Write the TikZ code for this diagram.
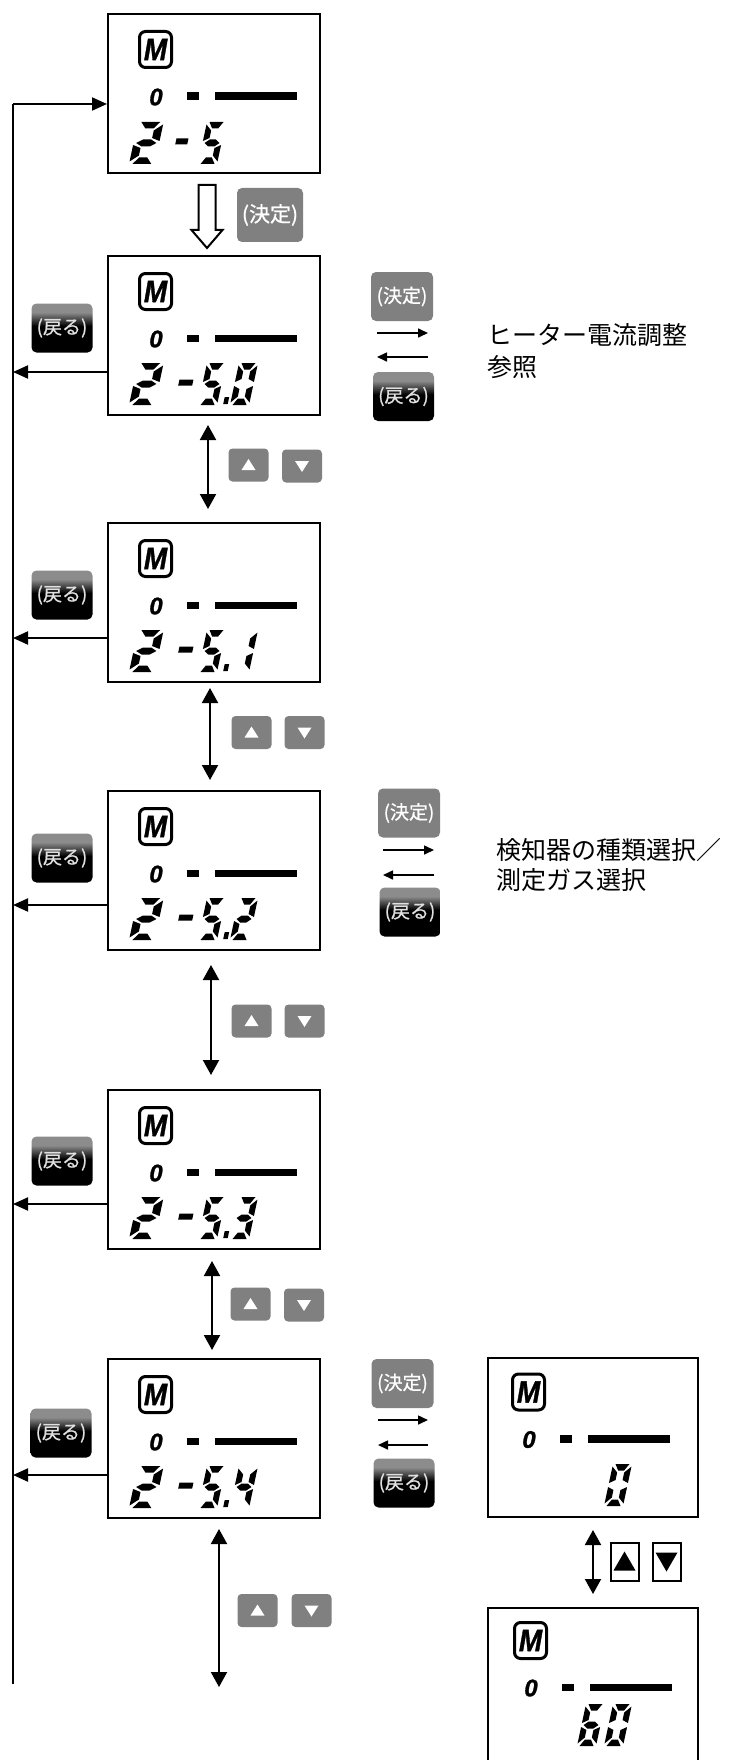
\documentclass[tikz,border=0pt]{standalone}
\usepackage{fontspec}
\usepackage{graphicx}
\setmainfont{Liberation Sans}
\newfontfamily\jpfont{Noto Sans CJK JP}
\newfontfamily\jpbtn{Noto Sans CJK JP}[FakeBold=0.7]
\newfontfamily\lcdfont{Liberation Sans}[BoldItalicFeatures={FakeBold=1.2}]
\usetikzlibrary{arrows.meta}
\definecolor{btngray}{RGB}{128,128,128}
\definecolor{modtop}{RGB}{140,140,140}
\pgfdeclareverticalshading{modoru}{100bp}{color(0bp)=(black); color(52bp)=(black); color(66bp)=(modtop); color(100bp)=(modtop)}
% seven-segment pieces (local px, y down, cell 19x42)
\newcommand\sgA{\fill (2.5,0) -- (16.5,0) -- (12.5,6.5) -- (6.5,6.5) -- cycle;}
\newcommand\sgB{\fill (19,2.5) -- (19,19) -- (13,16) -- (13,8.5) -- cycle;}
\newcommand\sgC{\fill (19,23) -- (19,39.5) -- (13,33.5) -- (13,26) -- cycle;}
\newcommand\sgD{\fill (2.5,42) -- (16.5,42) -- (12.5,35.5) -- (6.5,35.5) -- cycle;}
\newcommand\sgE{\fill (0,23) -- (6,26) -- (6,33.5) -- (0,39.5) -- cycle;}
\newcommand\sgF{\fill (0,2.5) -- (6,8.5) -- (6,16) -- (0,19) -- cycle;}
\newcommand\sgG{\fill (2,21) -- (6.5,17.5) -- (12.5,17.5) -- (17,21) -- (12.5,24.5) -- (6.5,24.5) -- cycle;}
\newcommand\lcddig[4][1]{\begin{scope}[shift={(#2+9,#3)},xslant=0.214,xscale=#1]\foreach \s in {#4}{\csname sg\s\endcsname}\end{scope}}
\newcommand\lcdminus[3]{\begin{scope}[shift={(#1+9,#2)},xslant=0.214]\fill (0,16.5) rectangle (#3,22.5);\end{scope}}
\newcommand\lcddot[2]{\begin{scope}[shift={(#1+9,#2)},xslant=0.214]\fill (25,34) rectangle (29.5,41);\end{scope}}
\newcommand\lcdtop[3]{%
  \node[micon] (#1M) at (#2+48.5,#3+36.5) {\scalebox{0.9}[1]{M}};
  \node[zlab] (#1Z) at (#2+49,#3+84) {0};
  \fill (#2+80,#3+79.5) rectangle (#2+92,#3+87);
  \fill (#2+108,#3+79.5) rectangle (#2+190,#3+87);}
\newcommand\lcdrow[3]{%
  \lcddig[1.35]{#1+22}{#2+108}{A,B,G,E,D}
  \lcdminus{#1+67}{#2+108}{14}
  \lcddig{#1+91}{#2+108}{A,F,G,C,D}
  \lcddot{#1+91}{#2+108}
  \lcddig{#1+123}{#2+108}{#3}}
\newcommand\whiteup[1]{\fill[white] ([shift={(-7,5)}]#1.center) -- ([shift={(7,5)}]#1.center) -- ([shift={(0,-6)}]#1.center) -- cycle;}
\newcommand\whitedn[1]{\fill[white] ([shift={(-7,-5)}]#1.center) -- ([shift={(7,-5)}]#1.center) -- ([shift={(0,6)}]#1.center) -- cycle;}
\tikzset{
  lcd/.style={draw, line width=1pt, anchor=north west, inner sep=0, minimum width=106pt, minimum height=79.5pt},
  micon/.style={draw, line width=1.5pt, rounded corners=3pt, minimum width=16pt, minimum height=18pt, inner sep=0, font=\lcdfont\fontsize{15.5}{15.5}\selectfont\bfseries\itshape},
  zlab/.style={inner sep=0, font=\lcdfont\fontsize{12}{12}\selectfont\bfseries\itshape},
  kettei/.style={fill=btngray, rounded corners=2.5pt, minimum width=31pt, minimum height=24.5pt, inner sep=0, text=white, font=\jpbtn\fontsize{9.5}{9.5}\selectfont},
  modbtn/.style={shade, shading=modoru, rounded corners=2.5pt, minimum width=30.5pt, minimum height=24.5pt, inner sep=0, text=white!88!black, font=\jpbtn\fontsize{9.5}{9.5}\selectfont},
  updn/.style={fill=btngray, rounded corners=2pt, minimum width=20pt, minimum height=16.5pt, inner sep=0},
  obox/.style={draw, line width=1pt, minimum width=14pt, minimum height=19pt, inner sep=0},
  dbl/.style={line width=1pt, {Triangle[length=7.5pt,width=8pt]}-{Triangle[length=7.5pt,width=8pt]}},
  back/.style={line width=1pt, -{Triangle[length=7.5pt,width=6.5pt]}},
  smallarr/.style={line width=0.8pt, -{Triangle[length=5pt,width=4.5pt]}},
  desc/.style={anchor=west, inner sep=0, font=\jpfont\fontsize{12.5}{12.5}\selectfont},
}
\begin{document}
\begin{tikzpicture}[x=0.5pt,y=-0.5pt]
\useasboundingbox (0,0) rectangle (731,1760);
\clip (0,0) rectangle (731,1760);
\fill[white] (0,0) rectangle (731,1760);
% LCD boxes
\node[lcd] (b1) at (107,13) {};
\node[lcd] (b2) at (107,255) {};
\node[lcd] (b3) at (107,522) {};
\node[lcd] (b4) at (107,790) {};
\node[lcd] (b5) at (107,1089) {};
\node[lcd] (b6) at (107,1358) {};
\node[lcd, minimum width=105pt] (b7) at (487,1357) {};
\node[lcd, minimum width=105pt, minimum height=100pt] (b8) at (487,1607) {};
% LCD contents
\lcdtop{b1}{107}{13}
\lcdtop{b2}{107}{255}
\lcdtop{b3}{107}{522}
\lcdtop{b4}{107}{790}
\lcdtop{b5}{107}{1089}
\lcdtop{b6}{107}{1358}
\lcdtop{b7}{480}{1355.5}
\lcdtop{b8}{482}{1604}
\lcddig[1.35]{129}{122}{A,B,G,E,D}
\lcdminus{171}{122}{12}
\lcddig{198}{122}{A,F,G,C,D}
\lcdrow{107}{255}{A,B,C,D,E,F}
\lcdrow{107}{522}{B,C}
\lcdrow{107}{790}{A,B,G,E,D}
\lcdrow{107}{1089}{A,B,G,C,D}
\lcdrow{107}{1358}{F,G,B,C}
\lcddig{604}{1464}{A,B,C,D,E,F}
\lcddig{577}{1704}{A,F,G,E,D,C}
\lcddig{604}{1704}{A,B,C,D,E,F}
% left return line
\coordinate (top) at (13,104);
\coordinate (bot) at (13,1684);
\draw[line width=1pt] (bot) -- (top);
\draw[back] (top) -- (top -| b1.west);
\coordinate (r2) at (13,372);
\coordinate (r3) at (13,638);
\coordinate (r4) at (13,905);
\coordinate (r5) at (13,1204);
\coordinate (r6) at (13,1475);
\draw[back] (r2 -| b2.west) -- (r2);
\draw[back] (r3 -| b3.west) -- (r3);
\draw[back] (r4 -| b4.west) -- (r4);
\draw[back] (r5 -| b5.west) -- (r5);
\draw[back] (r6 -| b6.west) -- (r6);
\node[modbtn] (m2) at (62,328) {(戻る)};
\node[modbtn] (m3) at (62,595) {(戻る)};
\node[modbtn] (m4) at (62,858) {(戻る)};
\node[modbtn] (m5) at (62,1161) {(戻る)};
\node[modbtn] (m6) at (61,1433) {(戻る)};
% first transition
\draw[line width=1pt, fill=white] (198.5,185) -- (215.5,185) -- (215.5,230) -- (222.5,230) -- (207,248) -- (191.5,230) -- (198.5,230) -- cycle;
\node[kettei, minimum width=33pt, minimum height=27pt, font=\jpbtn\fontsize{10.5}{10.5}\selectfont] (k1) at (270,215) {(決定)};
% right groups
\node[kettei] (k2) at (402,296.5) {(決定)};
\coordinate (a2s) at (377,333); \coordinate (a2e) at (428,333);
\coordinate (c2s) at (428,357); \coordinate (c2e) at (377,357);
\draw[smallarr] (a2s) -- (a2e);
\draw[smallarr] (c2s) -- (c2e);
\node[modbtn] (n2) at (403.5,396.5) {(戻る)};
\node[desc] (t2a) at (487,335) {ヒーター電流調整};
\node[desc] (t2b) at (487,367) {参照};
\node[kettei] (k4) at (409,813) {(決定)};
\coordinate (a4s) at (383,850); \coordinate (a4e) at (434,850);
\coordinate (c4s) at (434,875); \coordinate (c4e) at (383,875);
\draw[smallarr] (a4s) -- (a4e);
\draw[smallarr] (c4s) -- (c4e);
\node[modbtn] (n4) at (410,912) {(戻る)};
\node[desc] (t4a) at (496,850) {検知器の種類選択／};
\node[desc] (t4b) at (496,880) {測定ガス選択};
\node[kettei] (k6) at (402.5,1383.5) {(決定)};
\coordinate (a6s) at (378,1420); \coordinate (a6e) at (428,1420);
\coordinate (c6s) at (428,1445); \coordinate (c6e) at (378,1445);
\draw[smallarr] (a6s) -- (a6e);
\draw[smallarr] (c6s) -- (c6e);
\node[modbtn] (n6) at (404,1483) {(戻る)};
% up/down transitions
\coordinate (v23a) at (208,425); \coordinate (v23b) at (208,509);
\coordinate (v34a) at (210,688); \coordinate (v34b) at (210,780);
\coordinate (v45a) at (211,965); \coordinate (v45b) at (211,1075);
\coordinate (v56a) at (212,1261); \coordinate (v56b) at (212,1350);
\coordinate (v6xa) at (219,1529); \coordinate (v6xb) at (219,1687);
\coordinate (v78a) at (593,1530); \coordinate (v78b) at (593,1594);
\draw[dbl] (v23a) -- (v23b);
\draw[dbl] (v34a) -- (v34b);
\draw[dbl] (v45a) -- (v45b);
\draw[dbl] (v56a) -- (v56b);
\draw[dbl] (v6xa) -- (v6xb);
\draw[dbl] (v78a) -- (v78b);
\node[updn] (u23) at (248.5,465) {}; \node[updn] (d23) at (302,466) {};
\node[updn] (u34) at (251.5,732.5) {}; \node[updn] (d34) at (304.5,732.5) {};
\node[updn] (u45) at (251.5,1021) {}; \node[updn] (d45) at (304.5,1021) {};
\node[updn] (u56) at (250.5,1304) {}; \node[updn] (d56) at (304,1305) {};
\node[updn] (u6x) at (257.5,1610.5) {}; \node[updn] (d6x) at (311.5,1610.5) {};
\whiteup{u23}\whitedn{d23}
\whiteup{u34}\whitedn{d34}
\whiteup{u45}\whitedn{d45}
\whiteup{u56}\whitedn{d56}
\whiteup{u6x}\whitedn{d6x}
\node[obox] (u78) at (624.5,1561.5) {};
\node[obox] (d78) at (666.5,1561.5) {};
\fill ([shift={(-11,9)}]u78.center) -- ([shift={(11,9)}]u78.center) -- ([shift={(0,-10)}]u78.center) -- cycle;
\fill ([shift={(-11,-9)}]d78.center) -- ([shift={(11,-9)}]d78.center) -- ([shift={(0,10)}]d78.center) -- cycle;
\end{tikzpicture}
\end{document}
